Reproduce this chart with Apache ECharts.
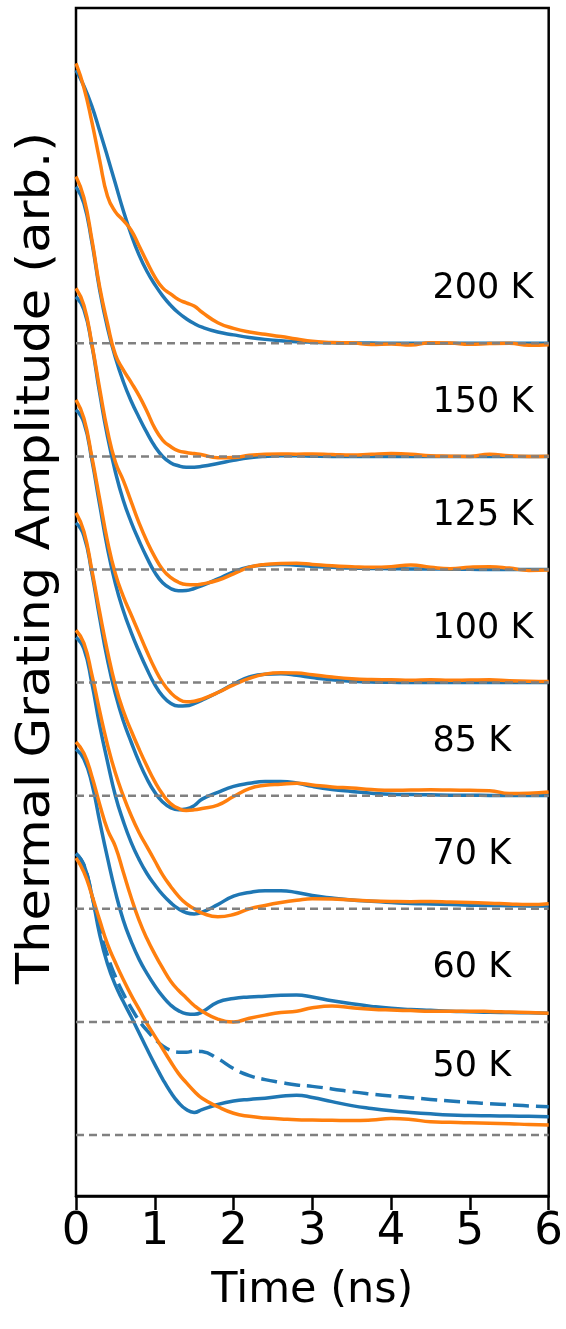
<!DOCTYPE html>
<html><head><meta charset="utf-8">
<script src="https://cdn.jsdelivr.net/npm/echarts@6/dist/echarts.min.js"></script>
<style>html,body{margin:0;padding:0;background:#fff}#c{width:566px;height:1329px}</style>
</head><body><div id="c"></div>
<script>
// time axis (ns)
const time = [0,0.1,0.2,0.3,0.4,0.5,0.6,0.7,0.8,0.9,1.0,1.1,1.2,1.3,1.4,1.5,1.6,1.8,2.0,2.2,2.4,2.6,2.8,3.0,3.25,3.5,3.75,4.0,4.25,4.5,4.75,5.0,5.25,5.5,5.75,6.0];
const xTicks = [0,1,2,3,4,5,6];
const temperatures = ['50 K','60 K','70 K','85 K','100 K','125 K','150 K','200 K'];
const offsets = [0,0.4,0.8,1.2,1.6,2.0,2.4,2.8];
const labelHeights = [0.24,0.191,0.191,0.191,0.191,0.191,0.191,0.191];
const labelTime = 4.525;

// normalized amplitudes: blue = model, orange = measured
const blue50  = [0.996,0.955,0.85,0.71,0.605,0.53,0.472,0.418,0.362,0.305,0.25,0.198,0.152,0.115,0.09,0.08,0.09,0.108,0.12,0.126,0.13,0.137,0.141,0.133,0.118,0.104,0.094,0.086,0.08,0.075,0.071,0.069,0.068,0.067,0.066,0.065];
const blue50dashed = [0.996,0.955,0.85,0.73,0.635,0.56,0.5,0.45,0.405,0.37,0.34,0.315,0.3,0.293,0.293,0.297,0.295,0.27,0.235,0.21,0.196,0.186,0.177,0.172,0.163,0.153,0.145,0.138,0.132,0.126,0.12,0.115,0.111,0.107,0.103,0.1];
const orange50 = [0.98,0.93,0.85,0.76,0.675,0.61,0.55,0.495,0.445,0.395,0.35,0.305,0.26,0.218,0.185,0.155,0.13,0.1,0.077,0.066,0.06,0.057,0.054,0.053,0.052,0.051,0.053,0.058,0.055,0.047,0.045,0.043,0.042,0.04,0.037,0.035];
const blue60  = [0.965,0.93,0.845,0.71,0.58,0.46,0.36,0.285,0.222,0.172,0.128,0.09,0.06,0.04,0.029,0.027,0.035,0.07,0.083,0.088,0.091,0.094,0.095,0.088,0.075,0.064,0.055,0.048,0.044,0.041,0.038,0.036,0.034,0.033,0.032,0.031];
const orange60 = [0.99,0.95,0.87,0.77,0.68,0.62,0.53,0.44,0.36,0.295,0.24,0.19,0.145,0.112,0.085,0.058,0.038,0.01,0.0,0.013,0.024,0.033,0.038,0.05,0.056,0.05,0.045,0.042,0.04,0.038,0.038,0.038,0.037,0.035,0.033,0.031];
const blue70  = [0.96,0.92,0.80,0.65,0.52,0.40,0.31,0.235,0.175,0.125,0.085,0.05,0.022,0.0,-0.014,-0.018,-0.012,0.015,0.045,0.058,0.064,0.064,0.058,0.047,0.038,0.031,0.027,0.022,0.019,0.017,0.015,0.013,0.012,0.011,0.01,0.01];
const orange70 = [0.985,0.94,0.83,0.70,0.58,0.48,0.40,0.33,0.27,0.22,0.17,0.12,0.08,0.045,0.018,0.0,-0.015,-0.028,-0.02,0.0,0.012,0.022,0.03,0.036,0.035,0.031,0.028,0.026,0.025,0.026,0.024,0.022,0.02,0.017,0.015,0.018];
const blue85  = [0.965,0.92,0.79,0.63,0.48,0.36,0.265,0.19,0.12,0.06,0.012,-0.022,-0.042,-0.05,-0.047,-0.035,-0.012,0.012,0.033,0.044,0.05,0.05,0.045,0.033,0.022,0.015,0.009,0.005,0.004,0.003,0.002,0.002,0.001,0.001,0.001,0.001];
const orange85 = [1.0,0.935,0.80,0.65,0.51,0.39,0.30,0.23,0.165,0.105,0.05,0.005,-0.028,-0.045,-0.052,-0.05,-0.045,-0.033,-0.003,0.025,0.037,0.041,0.044,0.038,0.031,0.027,0.022,0.019,0.02,0.021,0.02,0.019,0.018,0.008,0.009,0.013];
const blue100 = [0.965,0.92,0.79,0.63,0.475,0.35,0.255,0.178,0.11,0.048,-0.007,-0.048,-0.073,-0.083,-0.082,-0.074,-0.062,-0.035,-0.005,0.02,0.03,0.031,0.026,0.018,0.01,0.005,0.002,0.001,0,0,0,0,0,0,0,0];
const orange100 = [1.0,0.935,0.80,0.65,0.50,0.385,0.305,0.24,0.175,0.11,0.05,0.0,-0.035,-0.058,-0.068,-0.066,-0.058,-0.035,-0.008,0.015,0.03,0.035,0.034,0.028,0.02,0.014,0.011,0.01,0.008,0.01,0.008,0.009,0.01,0.007,0.005,0.004];
const blue125 = [0.965,0.92,0.795,0.625,0.47,0.345,0.245,0.168,0.102,0.042,-0.01,-0.047,-0.067,-0.075,-0.074,-0.067,-0.057,-0.033,-0.008,0.009,0.016,0.018,0.015,0.011,0.008,0.005,0.004,0.003,0.002,0.002,0.001,0.001,0,0,0,0];
const orange125 = [0.995,0.935,0.80,0.64,0.49,0.38,0.315,0.24,0.165,0.10,0.045,0.0,-0.028,-0.045,-0.053,-0.054,-0.051,-0.038,-0.015,0.008,0.018,0.021,0.022,0.018,0.013,0.01,0.008,0.01,0.016,0.008,0.003,0.008,0.01,0.005,-0.003,-0.002];
const blue150 = [0.954,0.895,0.76,0.59,0.455,0.35,0.265,0.196,0.138,0.084,0.036,0.0,-0.022,-0.033,-0.038,-0.038,-0.035,-0.025,-0.014,-0.005,0.0,0.002,0.002,0.001,0,0,0,0,0,0,0,0,0,0,0,0];
const orange150 = [0.99,0.915,0.77,0.60,0.47,0.36,0.306,0.262,0.215,0.16,0.10,0.058,0.035,0.02,0.014,0.01,0.006,-0.005,-0.004,0.004,0.008,0.009,0.008,0.009,0.007,0.005,0.008,0.01,0.008,0.002,0.001,0.0,0.008,0.002,0.0,0.001];
const blue200 = [0.966,0.91,0.84,0.752,0.66,0.565,0.47,0.385,0.313,0.255,0.208,0.168,0.135,0.108,0.087,0.07,0.057,0.04,0.03,0.021,0.014,0.009,0.006,0.004,0.002,0.001,0.001,0,0,0,0,0,0,0,0,0];
const orange200 = [0.99,0.905,0.785,0.648,0.52,0.465,0.435,0.40,0.345,0.288,0.235,0.196,0.175,0.155,0.143,0.132,0.11,0.073,0.053,0.04,0.032,0.024,0.015,0.007,0.003,0.002,-0.004,-0.002,-0.006,0.002,0.001,-0.003,-0.001,0.0,-0.007,-0.005];

const blueSets = [blue50,blue60,blue70,blue85,blue100,blue125,blue150,blue200];
const orangeSets = [orange50,orange60,orange70,orange85,orange100,orange125,orange150,orange200];

const BLUE = '#1f77b4', ORANGE = '#ff7f0e', FONT = '"DejaVu Sans", sans-serif';
const series = [];
function lineSeries(vals, off, color, type, z) {
  return {type:'line', data: time.map((t,k)=>[t, vals[k] + off]), smooth:0.5, showSymbol:false,
    lineStyle:{color:color, width:3.5, type:type, cap:'butt', join:'round'}, z:z, silent:true};
}
for (let i = 0; i < temperatures.length; i++) {
  if (i === 0) {
    series.push(lineSeries(blue50dashed, offsets[0], BLUE, [16,7], 2));
  }
  series.push(lineSeries(blueSets[i], offsets[i], BLUE, 'solid', 2));
  series.push(lineSeries(orangeSets[i], offsets[i], ORANGE, 'solid', 3));
  series.push({type:'line', data:[[xTicks[0], offsets[i]],[xTicks[xTicks.length-1], offsets[i]]], showSymbol:false,
    lineStyle:{color:'#808080', width:2.5, type:[8,5]}, z:4, silent:true});
}
series.push({type:'scatter', symbolSize:0, silent:true, z:5, itemStyle:{opacity:1},
  data: temperatures.map((n,i)=>({value:[labelTime, offsets[i]+labelHeights[i]], name:n})),
  label:{show:true, position:'right', distance:0, formatter:p=>p.name, fontSize:35, color:'#000', opacity:1, fontFamily:FONT}});

const chart = echarts.init(document.getElementById('c'), null, {renderer:'canvas'});
chart.setOption({
  animation:false,
  backgroundColor:'#fff',
  grid:{left:76, right:14, top:8, bottom:133, show:true, borderColor:'#000', borderWidth:2.5, backgroundColor:'transparent'},
  xAxis:{type:'value', min:0, max:6, interval:1,
    axisLine:{show:true, onZero:false, lineStyle:{color:'#000', width:2.5}},
    axisTick:{show:true, length:14, lineStyle:{color:'#000', width:2.5}},
    axisLabel:{fontSize:45, color:'#000', margin:14, fontFamily:FONT},
    splitLine:{show:false},
    name:'Time (ns)', nameLocation:'middle', nameGap:73,
    nameTextStyle:{fontSize:43, color:'#000', fontFamily:FONT}},
  yAxis:{type:'value', min:-0.2157, max:3.986,
    axisLine:{show:false}, axisTick:{show:false}, axisLabel:{show:false}, splitLine:{show:false}},
  graphic:[{type:'text', x:37, y:558, rotation:Math.PI/2, scaleX:1.11, silent:true,
    style:{text:'Thermal Grating Amplitude (arb.)', fill:'#000', fontSize:46, fontFamily:FONT,
      align:'center', verticalAlign:'middle', textAlign:'center', textVerticalAlign:'middle'}}],
  series: series
});
</script></body></html>
